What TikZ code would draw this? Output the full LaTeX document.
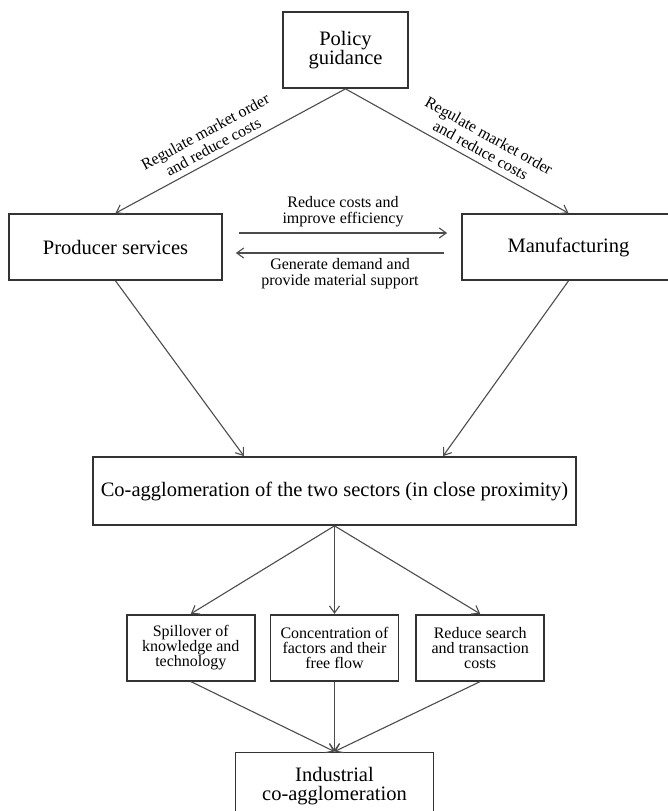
\documentclass[tikz,border=0pt]{standalone}
\usepackage{fontspec}
\setmainfont{Liberation Serif}
\usetikzlibrary{positioning,arrows.meta}

\begin{document}
\begin{tikzpicture}[x=1pt,y=-1pt,
	box/.style={draw=black!80,line width=1.7pt,align=center,inner sep=0pt,font=\fontsize{20.5}{19}\selectfont},
	sbox/.style={draw=black!80,line width=1.7pt,align=center,inner sep=0pt,minimum width=128pt,minimum height=66pt,font=\fontsize{16}{15}\selectfont},
	arr/.style={draw=black!70,line width=1.1pt,-{Straight Barb[length=7pt,width=10pt]}},
	lbl/.style={font=\fontsize{16}{15.5}\selectfont,align=center,inner sep=2pt},
	slbl/.style={lbl,font=\fontsize{16}{17}\selectfont,sloped,above=4pt}]
	\useasboundingbox (0,0) rectangle (668,811);

	\node[box,minimum width=125pt,minimum height=76pt] (policy) at (345.5,50) {Policy\\guidance};
	\node[box,minimum width=213pt,minimum height=66pt] (prod) at (115.5,247) {Producer services};
	\node[box,minimum width=213pt,minimum height=66pt] (manu) at (568.5,247) {Manufacturing};
	\node[box,minimum width=483pt,minimum height=68pt] (coag) at (334.5,491) {Co-agglomeration of the two sectors (in close proximity)};
	\node[sbox,below=88pt of coag] (conc) {Concentration of\\factors and their\\free flow};
	\node[sbox,left=14pt of conc] (spill) {Spillover of\\knowledge and\\technology};
	\node[sbox,right=16pt of conc] (search) {Reduce search\\and transaction\\costs};
	\node[box,minimum width=198pt,minimum height=68pt,below=70pt of conc] (indus) {Industrial\\co-agglomeration};

	\draw[arr] (policy.south) -- node[slbl,pos=0.55] {Regulate market order\\and reduce costs} (prod.north);
	\draw[arr] (policy.south) -- node[slbl,pos=0.58] {Regulate market order\\and reduce costs} (manu.north);

	\draw[arr] ([xshift=16pt,yshift=14pt]prod.east) -- node[lbl,above=4pt] {Reduce costs and\\improve efficiency} ([xshift=-14pt,yshift=14pt]manu.west);
	\draw[arr] ([xshift=-17pt,yshift=-6pt]manu.west) -- node[lbl,below=3pt] {Generate demand and\\provide material support} ([xshift=13pt,yshift=-6pt]prod.east);

	\draw[arr] (prod.south) -- ([xshift=-90.5pt]coag.north);
	\draw[arr] (manu.south) -- ([xshift=108.5pt]coag.north);

	\draw[arr] (coag.south) -- (spill.north);
	\draw[arr] (coag.south) -- (conc.north);
	\draw[arr] (coag.south) -- (search.north);

	\draw[arr] (spill.south) -- (indus.north);
	\draw[arr] (conc.south) -- (indus.north);
	\draw[arr] (search.south) -- (indus.north);
\end{tikzpicture}
\end{document}
